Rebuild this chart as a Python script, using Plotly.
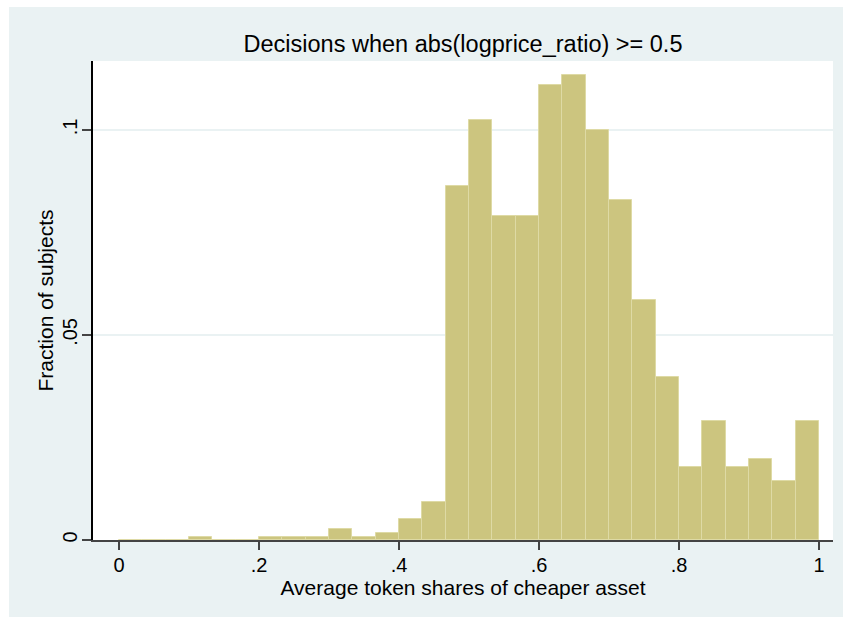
import numpy as np
import plotly.graph_objects as go

# Histogram of average token share of the cheaper asset, 30 equal bins on [0, 1]
n_bins = 30
bin_width = 1 / n_bins
bin_left = np.arange(n_bins) / n_bins
fractions = [
    0.0, 0.0, 0.0, 0.00085, 0.0, 0.0,
    0.00085, 0.00085, 0.00085, 0.0026, 0.00085, 0.0018,
    0.0051, 0.0093, 0.0864, 0.1024, 0.0789, 0.0789,
    0.1109, 0.1134, 0.0999, 0.0830, 0.0585, 0.0398,
    0.0179, 0.0289, 0.0179, 0.0197, 0.0145, 0.0289,
]

x_ticks = [0, 0.2, 0.4, 0.6, 0.8, 1]
x_tick_labels = ["0", ".2", ".4", ".6", ".8", "1"]
y_ticks = [0, 0.05, 0.1]
y_tick_labels = ["0", ".05", ".1"]

title_text = "Decisions when abs(logprice_ratio) >= 0.5"
x_title = "Average token shares of cheaper asset"
y_title = "Fraction of subjects"

W, H = 843, 617
ML, MR, MT, MB = 93, 10, 61, 77
FONT = "Liberation Sans, Arial, sans-serif"
BG = "#EAF2F3"

fig = go.Figure(
    go.Bar(
        x=bin_left,
        y=fractions,
        width=bin_width,
        offset=0,
        marker=dict(color="rgb(204,197,127)",
                    line=dict(color="rgb(222,218,165)", width=1)),
        hoverinfo="x+y",
    )
)

pw, ph = W - ML - MR, H - MT - MB
# white strips along the left and top edges of the page
fig.add_shape(type="rect", xref="paper", yref="paper",
              x0=-ML / pw, x1=(9 - ML) / pw, y0=-MB / ph, y1=(H - MB) / ph,
              fillcolor="white", line_width=0, layer="below")
fig.add_shape(type="rect", xref="paper", yref="paper",
              x0=-ML / pw, x1=(W - ML) / pw, y0=(H - MB - 7) / ph, y1=(H - MB) / ph,
              fillcolor="white", line_width=0, layer="below")

fig.update_layout(
    width=W, height=H,
    margin=dict(l=ML, r=MR, t=MT, b=MB, pad=0),
    paper_bgcolor=BG,
    plot_bgcolor="white",
    bargap=0,
    showlegend=False,
    font=dict(family=FONT, color="black"),
    title=dict(text=title_text, font=dict(size=23.5, family=FONT, color="black"),
               xref="paper", x=0.5, xanchor="center",
               yref="container", y=1 - 44 / H, yanchor="middle"),
)

fig.update_xaxes(
    range=[-0.0371, 1.02],
    tickvals=x_ticks, ticktext=x_tick_labels,
    tickfont=dict(size=20, family=FONT, color="black"),
    ticks="outside", ticklen=8, tickwidth=1.5, tickcolor="#444",
    ticklabelstandoff=-2,
    showline=True, linecolor="#444", linewidth=1.5,
    showgrid=False, zeroline=False,
    title=dict(text=x_title, font=dict(size=21, family=FONT, color="black"), standoff=0),
)
fig.update_yaxes(
    range=[0, 0.1168],
    tickvals=y_ticks, ticktext=y_tick_labels, tickangle=-90,
    tickfont=dict(size=20, family=FONT, color="black"),
    ticks="outside", ticklen=9, tickwidth=1.5, tickcolor="#444",
    ticklabelstandoff=-3,
    showline=True, linecolor="black", linewidth=1.5,
    showgrid=True, gridcolor=BG, gridwidth=1.5,
    zeroline=False,
    title=dict(text=y_title, font=dict(size=21, family=FONT, color="black"), standoff=0),
)

fig.write_html("out.html")
